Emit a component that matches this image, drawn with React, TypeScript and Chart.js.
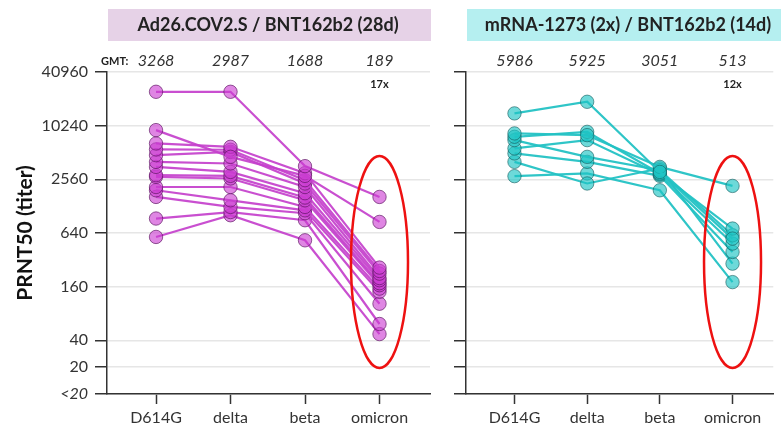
import React, { useEffect, useRef } from "react";
import { Chart, registerables } from "chart.js";

Chart.register(...registerables);

const categories = ["D614G", "delta", "beta", "omicron"];
const yTickValues = [10, 20, 40, 160, 640, 2560, 10240, 40960];
const yTickLabels = ["<20", "20", "40", "160", "640", "2560", "10240", "40960"];

const leftTitle = "Ad26.COV2.S / BNT162b2 (28d)";
const rightTitle = "mRNA-1273 (2x) / BNT162b2 (14d)";
const leftGMT = ["3268", "2987", "1688", "189"];
const rightGMT = ["5986", "5925", "3051", "513"];
const leftFold = "17x";
const rightFold = "12x";

// per-subject values, index = subject
const leftD614G = [24570, 9130, 6470, 5540, 4780, 4020, 3530, 2850, 2730, 2100, 1930, 1625, 930, 578];
const leftDelta = [24570, 4575, 5930, 5500, 5200, 3855, 3100, 2800, 2617, 2100, 1490, 1255, 1100, 1013];
const leftBeta = [3600, 2800, 3000, 2505, 2300, 2100, 1790, 1600, 1490, 1255, 1150, 1067, 890, 530];
const leftOmicron = [1625, 852, 262, 240, 224, 200, 189, 175, 166, 152, 140, 103, 61, 47];

const rightD614G = [14060, 8380, 7680, 7050, 5690, 5000, 4020, 2780];
const rightDelta = [18980, 8020, 8730, 4575, 7050, 4020, 2300, 2980];
const rightBeta = [3100, 3530, 2980, 3240, 2900, 2800, 3400, 1930];
const rightOmicron = [554, 2160, 718, 604, 487, 392, 290, 180];

const FONT = "Lato, 'Open Sans', sans-serif";

function buildDatasets(cols: number[][], line: string, fill: string, border: string) {
  const n = cols[0].length;
  const out: any[] = [];
  for (let s = 0; s < n; s++) {
    out.push({
      data: cols.map((c, i) => ({ x: i, y: c[s] })),
      borderColor: line,
      borderWidth: 2.2,
      pointRadius: 6.7,
      pointBackgroundColor: fill,
      pointBorderColor: border,
      pointBorderWidth: 1,
      tension: 0,
    });
  }
  return out;
}

function makeDecor(cfg: {
  title: string;
  boxColor: string;
  boxX0: number;
  boxX1: number;
  titleX: number;
  gmt: string[];
  showGmtLabel: boolean;
  fold: string;
}) {
  return {
    id: "decor",
    afterDraw(chart: any) {
      const ctx = chart.ctx;
      const xs = chart.scales.x;
      ctx.save();
      ctx.fillStyle = cfg.boxColor;
      ctx.fillRect(cfg.boxX0, 9, cfg.boxX1 - cfg.boxX0, 32);
      ctx.fillStyle = "#222";
      ctx.font = `bold 18px ${FONT}`;
      ctx.textAlign = "center";
      ctx.textBaseline = "middle";
      ctx.fillText(cfg.title, cfg.titleX, 25);
      if (cfg.showGmtLabel) {
        ctx.font = `bold 11px ${FONT}`;
        ctx.textAlign = "left";
        ctx.fillStyle = "#222";
        ctx.fillText("GMT:", 101, 61);
      }
      ctx.font = `italic 16px ${FONT}`;
      ctx.textAlign = "center";
      ctx.fillStyle = "#333";
      cfg.gmt.forEach((g, i) => {
        ctx.fillText(g, xs.getPixelForValue(i), 61);
      });
      ctx.font = `bold 11px ${FONT}`;
      ctx.fillStyle = "#222";
      ctx.fillText(cfg.fold, xs.getPixelForValue(3), 84);
      ctx.beginPath();
      ctx.strokeStyle = "#ee1111";
      ctx.lineWidth = 2.5;
      ctx.ellipse(xs.getPixelForValue(3), 262, 28.5, 106, 0, 0, Math.PI * 2);
      ctx.stroke();
      ctx.restore();
    },
  };
}

function makeOptions(opts: { yWidth: number; showY: boolean; xMin: number; xMax: number; padRight: number }) {
  return {
    responsive: false,
    animation: false,
    events: [],
    layout: { padding: { top: 72, right: opts.padRight, left: 0, bottom: 0 } },
    plugins: { legend: { display: false }, tooltip: { enabled: false } },
    scales: {
      x: {
        type: "linear",
        min: opts.xMin,
        max: opts.xMax,
        afterBuildTicks: (s: any) => {
          s.ticks = categories.map((_, i) => ({ value: i }));
        },
        afterFit: (s: any) => {
          s.height = 36;
        },
        ticks: {
          autoSkip: false,
          maxRotation: 0,
          padding: 4,
          color: "#333",
          font: { family: FONT, size: 16 },
          callback: (v: number) => categories[v] ?? "",
        },
        grid: { drawOnChartArea: false, drawTicks: true, tickLength: 10, tickColor: "#333", tickWidth: 1.5 },
        border: { color: "#333", width: 1.5 },
      },
      y: {
        type: "logarithmic",
        min: 10,
        max: 40960,
        afterBuildTicks: (s: any) => {
          s.ticks = yTickValues.map((v) => ({ value: v }));
        },
        afterFit: (s: any) => {
          s.width = opts.yWidth;
        },
        ticks: {
          display: opts.showY,
          autoSkip: false,
          padding: 7,
          color: "#333",
          font: (c: any) => ({
            family: FONT,
            size: 16,
            style: c.tick && c.tick.value === 10 ? "italic" : "normal",
          }),
          callback: (v: number) => {
            const i = yTickValues.indexOf(v);
            return i >= 0 ? yTickLabels[i] : "";
          },
        },
        title: {
          display: opts.showY,
          text: "PRNT50 (titer)",
          color: "#111",
          font: { family: FONT, size: 21, weight: "bold" },
          padding: { top: 13, bottom: 0 },
        },
        grid: {
          color: "#e6e6e6",
          lineWidth: 1.5,
          drawTicks: true,
          tickLength: 12,
          tickColor: "#333",
          tickWidth: 1.5,
        },
        border: { color: "#333", width: 1.5 },
      },
    },
  };
}

export default function App() {
  const leftRef = useRef<HTMLCanvasElement>(null);
  const rightRef = useRef<HTMLCanvasElement>(null);

  useEffect(() => {
    const left = new Chart(leftRef.current as HTMLCanvasElement, {
      type: "line",
      data: {
        datasets: buildDatasets(
          [leftD614G, leftDelta, leftBeta, leftOmicron],
          "rgba(196, 64, 204, 0.92)",
          "rgba(204, 60, 210, 0.62)",
          "rgba(90, 20, 95, 0.65)"
        ),
      },
      options: makeOptions({ yWidth: 107, showY: true, xMin: -0.658, xMax: 3.678, padRight: 10 }) as any,
      plugins: [
        makeDecor({
          title: leftTitle,
          boxColor: "#e6d2e7",
          boxX0: 108,
          boxX1: 431,
          titleX: 268,
          gmt: leftGMT,
          showGmtLabel: true,
          fold: leftFold,
        }),
      ],
    });
    const right = new Chart(rightRef.current as HTMLCanvasElement, {
      type: "line",
      data: {
        datasets: buildDatasets(
          [rightD614G, rightDelta, rightBeta, rightOmicron],
          "rgba(36, 194, 196, 0.95)",
          "rgba(30, 196, 196, 0.65)",
          "rgba(20, 90, 92, 0.6)"
        ),
      },
      options: makeOptions({ yWidth: 26, showY: false, xMin: -0.667, xMax: 3.561, padRight: 0 }) as any,
      plugins: [
        makeDecor({
          title: rightTitle,
          boxColor: "#b5eff0",
          boxX0: 27,
          boxX1: 345,
          titleX: 188,
          gmt: rightGMT,
          showGmtLabel: false,
          fold: rightFold,
        }),
      ],
    });
    return () => {
      left.destroy();
      right.destroy();
    };
  }, []);

  return (
    <div style={{ position: "absolute", left: 0, top: 0, width: 781, height: 430, background: "#fff", overflow: "hidden" }}>
      <canvas ref={leftRef} width={440} height={430} style={{ position: "absolute", left: 0, top: 0 }} />
      <canvas ref={rightRef} width={341} height={430} style={{ position: "absolute", left: 440, top: 0 }} />
    </div>
  );
}
